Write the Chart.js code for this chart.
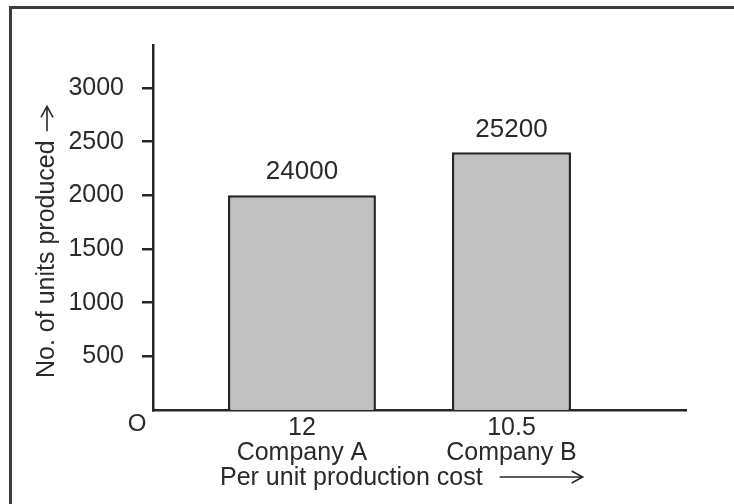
<!DOCTYPE html>
<html>
<head>
<meta charset="utf-8">
<script src="https://cdn.jsdelivr.net/npm/chart.js@4"></script>
<style>
  body { margin: 0; background: #fff; }
  #wrap { position: relative; width: 734px; height: 504px; overflow: hidden; }
  #frame { position: absolute; left: 9px; top: 6px; width: 760px; height: 540px; border: 3px solid #3c3c3c; }
  canvas { position: absolute; left: 0; top: 0; }
</style>
</head>
<body>
<div id="wrap">
  <div id="frame"></div>
  <canvas id="chart" width="734" height="504"></canvas>
</div>
<script>
var companies = ['Company A', 'Company B'];
var unitCosts = ['12', '10.5'];
var unitsProduced = [2000, 2400];
var totalCosts = ['24000', '25200'];
var yTicks = [500, 1000, 1500, 2000, 2500, 3000];
var xSlots = [1, 2];

// bars are not the same width in the original
var barShare = [0.706, 0.568];

var ink = '#2a2a2a';
var line = '#262626';
var family = '"Liberation Sans", Arial, sans-serif';

var datasets = companies.map(function (name, i) {
    return {
        label: name,
        data: xSlots.map(function (x, j) {
            return { x: x, y: j === i ? unitsProduced[i] : null };
        }),
        backgroundColor: '#c0c0c0',
        borderColor: line,
        borderWidth: 2.5,
        categoryPercentage: 1,
        barPercentage: barShare[i],
        skipNull: true
    };
});

function arrow(ctx, x, y, len) {
    // plain long arrow pointing along +x
    ctx.beginPath();
    ctx.moveTo(x, y);
    ctx.lineTo(x + len, y);
    ctx.moveTo(x + len - 10, y - 6);
    ctx.lineTo(x + len + 1, y);
    ctx.lineTo(x + len - 10, y + 6);
    ctx.stroke();
}

var extras = {
    id: 'extras',
    afterDraw: function (chart) {
        var ctx = chart.ctx;
        var area = chart.chartArea;
        ctx.save();
        ctx.fillStyle = ink;
        ctx.strokeStyle = ink;
        ctx.lineWidth = 1.6;
        ctx.textBaseline = 'middle';
        ctx.textAlign = 'center';

        // totals above bars
        ctx.font = '26px ' + family;
        companies.forEach(function (name, i) {
            var el = chart.getDatasetMeta(i).data[i];
            ctx.fillText(totalCosts[i], el.x, el.y - 23);
        });

        // origin
        ctx.font = '24px ' + family;
        ctx.fillText('O', area.left - 16, area.bottom + 14);

        // x axis title
        ctx.font = '25px ' + family;
        ctx.textAlign = 'left';
        var tx = area.left + 67;
        var ty = area.bottom + 68;
        var text = 'Per unit production cost';
        ctx.fillText(text, tx, ty);
        arrow(ctx, tx + ctx.measureText(text).width + 17, ty - 1, 82);

        // y axis title
        ctx.translate(47, 378);
        ctx.rotate(-Math.PI / 2);
        var ytext = 'No. of units produced';
        ctx.fillText(ytext, 0, 0);
        arrow(ctx, ctx.measureText(ytext).width + 9, 0, 24);
        ctx.restore();
    }
};

new Chart(document.getElementById('chart'), {
    type: 'bar',
    data: { datasets: datasets },
    options: {
        responsive: false,
        animation: false,
        events: [],
        layout: { padding: { top: 45, right: 48, left: 0, bottom: 0 } },
        plugins: { legend: { display: false }, tooltip: { enabled: false } },
        scales: {
            x: {
                type: 'linear',
                offset: false,
                min: 0.289,
                max: 2.833,
                afterBuildTicks: function (s) {
                    s.ticks = xSlots.map(function (v) { return { value: v }; });
                },
                afterFit: function (s) { s.height = 94; },
                grid: { display: false, drawTicks: false, offset: false },
                border: { color: line, width: 2.5 },
                ticks: {
                    padding: 6,
                    autoSkip: false,
                    maxRotation: 0,
                    color: ink,
                    font: { family: family, size: 25, lineHeight: 1 },
                    callback: function (v) {
                        var i = xSlots.indexOf(v);
                        return i < 0 ? '' : [unitCosts[i], companies[i]];
                    }
                }
            },
            y: {
                min: 0,
                max: 3400,
                afterBuildTicks: function (s) {
                    s.ticks = yTicks.map(function (v) { return { value: v }; });
                },
                afterFit: function (s) { s.width = 153; },
                grid: { drawOnChartArea: false, drawTicks: true, tickLength: 11, color: line, lineWidth: 2.5 },
                border: { color: line, width: 2.5 },
                ticks: {
                    padding: 18,
                    color: ink,
                    font: { family: family, size: 25 },
                    callback: function (v) { return String(v); }
                }
            }
        }
    },
    plugins: [extras]
});
</script>
</body>
</html>
